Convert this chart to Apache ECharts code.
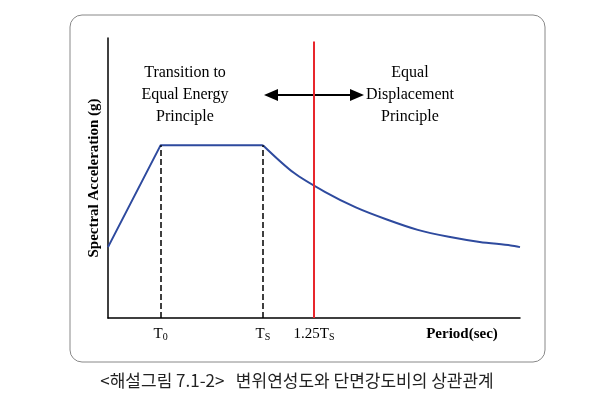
<!DOCTYPE html><html><head><meta charset="utf-8">
<script src="https://cdn.jsdelivr.net/npm/echarts@6/dist/echarts.min.js"></script>
<style>html,body{margin:0;background:#fff}#c{width:594px;height:419px}</style></head><body><div id="c"></div>
<script>
const rampPeriods=[0,0.34,1.0];
const rampAccel=[0.41,1.0,1.0];
const decayPeriods=[1.0,1.2,1.4,1.6,1.8,2.0,2.2,2.4,2.6,2.66];
const decayAccel=[1.0,0.84,0.73,0.64,0.57,0.51,0.47,0.44,0.42,0.41];
const T0=0.34, TS=1.0, TR=1.33;
const tickVals=[T0,TS,TR];
const tickLabels=['T{s|0}','T{s|S}','1.25T{s|S}'];
const serif='"Liberation Serif","DejaVu Serif",serif';
const c=echarts.init(document.getElementById('c'));
const ls={color:'#2E4A9E',width:2};
c.setOption({
 animation:false,
 grid:{left:108,right:74,top:38,bottom:101},
 xAxis:{type:'value',min:0,max:2.66,axisLine:{lineStyle:{color:'#000',width:1.5}},splitLine:{show:false},
  axisTick:{show:false},
  axisLabel:{customValues:tickVals,color:'#000',fontFamily:serif,fontSize:15,margin:8,
   formatter:v=>{let i=tickVals.findIndex(t=>Math.abs(t-v)<1e-6);return i<0?'':tickLabels[i];},
   rich:{s:{fontSize:10,verticalAlign:'bottom',padding:[6,0,0,0],fontFamily:serif}}}},
 yAxis:{type:'value',min:0,max:1.62,axisLine:{show:true,lineStyle:{color:'#000',width:1.5}},splitLine:{show:false},axisTick:{show:false},axisLabel:{show:false}},
 series:[
  {type:'line',data:rampPeriods.map((p,i)=>[p,rampAccel[i]]),showSymbol:false,lineStyle:ls,
  markLine:{silent:true,symbol:'none',label:{show:false},data:[
   [{coord:[T0,0],lineStyle:{color:'#000',type:'dashed',width:1.5}},{coord:[T0,1]}],
   [{coord:[TS,0],lineStyle:{color:'#000',type:'dashed',width:1.5}},{coord:[TS,1]}],
   [{coord:[TR,0],lineStyle:{color:'#E8262C',type:'solid',width:2}},{coord:[TR,1.6]}]
  ]}},
  {type:'line',data:decayPeriods.map((p,i)=>[p,decayAccel[i]]),smooth:0.3,showSymbol:false,lineStyle:ls}
 ],
 graphic:[
  {type:'rect',shape:{x:70,y:15,width:475,height:347,r:12},style:{fill:'none',stroke:'#888',lineWidth:1}},
  {type:'text',x:185,y:62,style:{text:'Transition to\nEqual Energy\nPrinciple',font:'16px '+serif,fill:'#000',align:'center',lineHeight:22}},
  {type:'text',x:410,y:62,style:{text:'Equal\nDisplacement\nPrinciple',font:'16px '+serif,fill:'#000',align:'center',lineHeight:22}},
  {type:'line',shape:{x1:272,y1:95,x2:356,y2:95},style:{stroke:'#000',lineWidth:2}},
  {type:'polygon',shape:{points:[[264,95],[278,89],[278,101]]},style:{fill:'#000'}},
  {type:'polygon',shape:{points:[[364,95],[350,89],[350,101]]},style:{fill:'#000'}},
  {type:'text',x:462,y:327,style:{text:'Period(sec)',font:'bold 15px '+serif,fill:'#000',align:'center'}},
  {type:'text',x:94,y:178,rotation:Math.PI/2,style:{text:'Spectral Acceleration (g)',font:'bold 15px '+serif,fill:'#000',align:'center',verticalAlign:'middle'}},
  {type:'text',x:297,y:372,style:{text:'<해설그림 7.1-2>   변위연성도와 단면강도비의 상관관계',font:'17px "Noto Sans CJK KR"',fill:'#222',align:'center'}}
 ]
});
</script></body></html>
